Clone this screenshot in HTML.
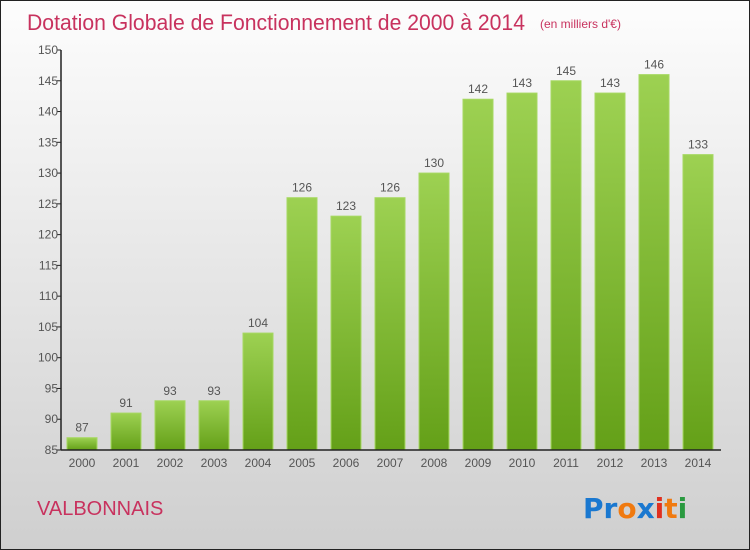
<!DOCTYPE html>
<html><head><meta charset="utf-8"><style>
body{margin:0;}
#wrap{position:relative;width:748px;height:548px;border:1px solid #222;background:linear-gradient(#fdfdfd,#cfcfcf);font-family:"Liberation Sans",sans-serif;overflow:hidden;}
</style></head><body>
<div id="wrap">
<svg width="748" height="548" id="svg">
<defs><linearGradient id="g" x1="0" y1="0" x2="0" y2="1"><stop offset="0" stop-color="#9dd152"/><stop offset="1" stop-color="#64a018"/></linearGradient></defs>
<text x="26" y="29" font-size="22" fill="#c8325e" textLength="498" lengthAdjust="spacingAndGlyphs">Dotation Globale de Fonctionnement de 2000 à 2014</text>
<text x="539" y="27" font-size="12" fill="#c8325e">(en milliers d'€)</text>
<text x="36" y="514" font-size="20" fill="#c8325e">VALBONNAIS</text>
<g font-size="28" font-weight="bold" font-family="DejaVu Sans, sans-serif">
<text x="582" y="517"><tspan fill="#1a78d0">Pr</tspan><tspan fill="#f07a10">o</tspan><tspan fill="#1a78d0">x</tspan><tspan fill="#e03020">i</tspan><tspan fill="#f07a10">t</tspan><tspan fill="#2a9a40">i</tspan></text></g>
<g id="plot"></g>
</svg></div>
<script>
const categories=["2000","2001","2002","2003","2004","2005","2006","2007","2008","2009","2010","2011","2012","2013","2014"];
const values=[87,91,93,93,104,126,123,126,130,142,143,145,143,146,133];
const yTicks=[85,90,95,100,105,110,115,120,125,130,135,140,145,150];
const ns="http://www.w3.org/2000/svg";
const plot=document.getElementById('plot');
const y0=449,y1=49,vmin=85,vmax=150;
const y=v=>y0-(v-vmin)/(vmax-vmin)*(y0-y1);
const x=i=>81+i*44;
function mk(t,a,txt){const e=document.createElementNS(ns,t);for(const k in a)e.setAttribute(k,a[k]);if(txt!==undefined)e.textContent=txt;plot.appendChild(e);return e;}
values.forEach((v,i)=>{
 const r=mk('rect',{x:x(i)-15,y:y(v),width:30,height:y0-y(v),fill:'url(#g)',stroke:'#a6d862','stroke-width':1});
 
 
 const t=mk('text',{x:x(i),y:y(v)-6,'text-anchor':'middle','font-size':12,fill:'#555'},v);
 
 
 const c=mk('text',{x:x(i),y:y0+17,'text-anchor':'middle','font-size':12,fill:'#555'},categories[i]);
 
 
});
yTicks.forEach(v=>{
 const l=mk('line',{x1:56,x2:60,y1:y(v),y2:y(v),stroke:'#222'});
 
 
 const t=mk('text',{x:57,y:y(v)+4,'text-anchor':'end','font-size':12,fill:'#555'},v);
 
 
});
const ya=mk('line',{x1:60,x2:60,y1:y1,y2:y0,stroke:'#222','stroke-width':1.5});


const xa=mk('line',{x1:60,x2:720,y1:y0,y2:y0,stroke:'#222','stroke-width':1.5});


</script>
</body></html>
